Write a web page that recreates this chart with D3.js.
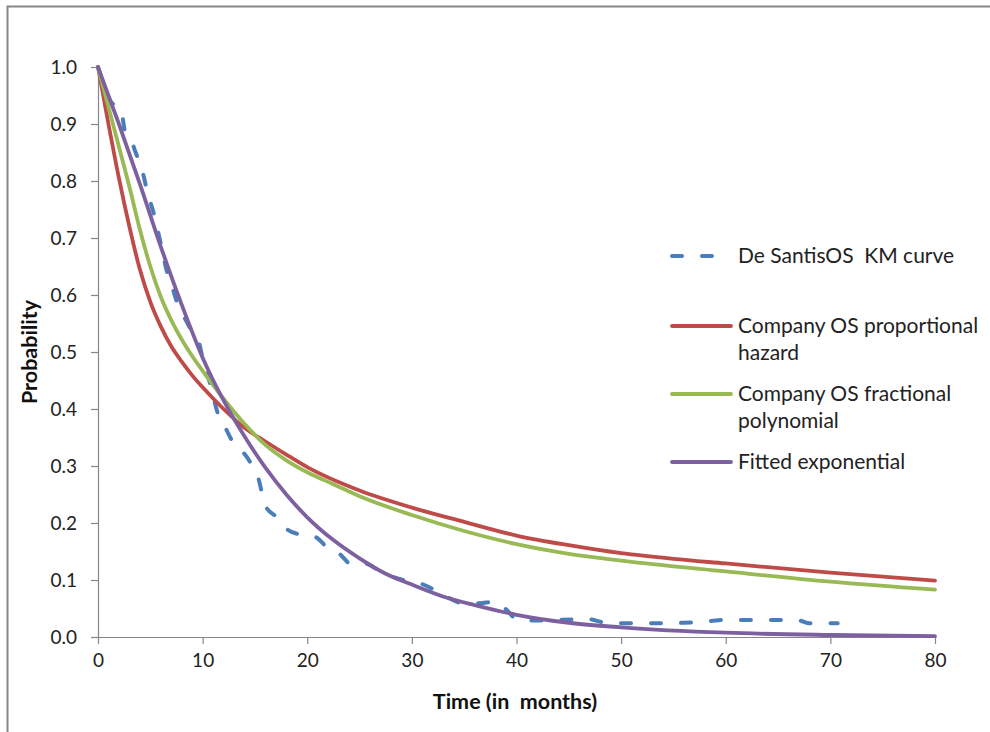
<!DOCTYPE html>
<html><head><meta charset="utf-8">
<script src="https://cdn.jsdelivr.net/npm/d3@7"></script>
<style>body{margin:0;background:#fff}svg{display:block}</style>
</head><body>
<svg id="c" width="990" height="732"></svg>
<script>
// ---- data ----
const xTicks = [0, 10, 20, 30, 40, 50, 60, 70, 80];
const yTicks = [0, 0.1, 0.2, 0.3, 0.4, 0.5, 0.6, 0.7, 0.8, 0.9, 1.0];
const seriesNames = ["De SantisOS  KM curve", "Company OS proportional hazard", "Company OS fractional polynomial", "Fitted exponential"];

const kmTime = [0, 1.2, 2.2, 2.6, 3.2, 3.6, 4.2, 4.8, 5.3, 6.0, 6.6, 7.0, 7.5, 8.0, 9.0, 9.6, 10.0, 10.7, 11.5, 12.1, 12.8, 13.7, 14.7, 15.3, 16.0, 17.1, 18.0, 19.5, 20.7, 22.0, 23.0, 24.3, 25.5, 27.0, 28.1, 29.2, 30.8, 32.7, 33.6, 34.9, 36.4, 37.8, 39.1, 40.0, 42, 44, 47, 48.5, 52, 56, 58, 59, 60, 65, 67, 68, 70.7];
const kmSurv = [1.0, 0.94, 0.925, 0.885, 0.87, 0.85, 0.82, 0.775, 0.745, 0.69, 0.64, 0.62, 0.59, 0.57, 0.536, 0.52, 0.49, 0.445, 0.39, 0.37, 0.345, 0.328, 0.302, 0.28, 0.23, 0.21, 0.19, 0.179, 0.176, 0.156, 0.147, 0.127, 0.129, 0.115, 0.106, 0.1, 0.094, 0.077, 0.068, 0.059, 0.059, 0.062, 0.047, 0.031, 0.029, 0.03, 0.031, 0.025, 0.024, 0.025, 0.027, 0.029, 0.03, 0.03, 0.029, 0.024, 0.024];

const phTime = [0, 1, 2, 3, 4, 5, 6, 7, 8, 9, 10, 12, 14, 16, 18, 20, 25, 30, 35, 40, 45, 50, 55, 60, 70, 80];
const phSurv = [1.0, 0.9, 0.805, 0.72, 0.645, 0.588, 0.545, 0.51, 0.483, 0.459, 0.438, 0.40, 0.367, 0.343, 0.32, 0.298, 0.257, 0.227, 0.202, 0.178, 0.161, 0.147, 0.137, 0.129, 0.113, 0.099];

const fpTime = [0, 1, 2, 3, 4, 5, 6, 7, 8, 9, 10, 12, 14, 16, 18, 20, 22.5, 25, 30, 35, 40, 45, 50, 60, 70, 80];
const fpSurv = [1.0, 0.93, 0.86, 0.79, 0.715, 0.65, 0.597, 0.556, 0.522, 0.493, 0.467, 0.418, 0.374, 0.337, 0.31, 0.289, 0.268, 0.247, 0.214, 0.186, 0.163, 0.146, 0.134, 0.115, 0.097, 0.083];

const exTime = [0, 2, 4, 6, 8, 10, 12, 14, 16, 18, 20, 22.5, 25, 27.5, 30, 33.5, 36, 40, 45, 50, 60, 70, 80];
const exSurv = [1.0, 0.9, 0.795, 0.685, 0.583, 0.49, 0.415, 0.352, 0.297, 0.25, 0.21, 0.17, 0.138, 0.111, 0.092, 0.068, 0.056, 0.039, 0.025, 0.017, 0.0075, 0.0035, 0.0015];

// ---- chart ----
const svg = d3.select("#c");
const colors = ["#4a7ebb", "#be4b48", "#98b954", "#7d60a0"];
const axisColor = "#868686";
const font = "Lato, 'Liberation Sans', Arial, sans-serif";

// outer frame
svg.append("path").attr("d", "M7.5,1000 V6.5 H1000")
  .attr("fill", "none").attr("stroke", axisColor).attr("stroke-width", 2);

const x = d3.scaleLinear().domain([0, 80]).range([98, 935]);
const y = d3.scaleLinear().domain([0, 1]).range([637, 67]);

// y axis
const yAx = svg.append("g").attr("transform", `translate(${x(0)},0)`)
  .call(d3.axisLeft(y).tickValues(yTicks).tickSize(7).tickSizeOuter(0).tickPadding(14).tickFormat(d3.format(".1f")));
// x axis
const xAx = svg.append("g").attr("transform", `translate(0,${y(0)})`)
  .call(d3.axisBottom(x).tickValues(xTicks).tickSize(7).tickSizeOuter(0).tickPadding(10).tickFormat(d3.format("d")));
[yAx, xAx].forEach(g => {
  g.select(".domain").attr("stroke", axisColor).attr("stroke-width", 1.2);
  g.selectAll(".tick line").attr("stroke", axisColor).attr("stroke-width", 1.2);
  g.selectAll(".tick text").attr("fill", "#222").style("font-family", font).style("font-size", "19px");
});

// axis titles
svg.append("text").attr("x", 515).attr("y", 709).attr("text-anchor", "middle")
  .style("font-family", font).style("font-size", "21.5px").style("font-weight", "bold").attr("fill", "#111")
  .attr("xml:space", "preserve").text("Time (in  months)");
svg.append("text").attr("transform", "translate(37,352) rotate(-90)").attr("text-anchor", "middle")
  .style("font-family", font).style("font-size", "21.5px").style("font-weight", "bold").attr("fill", "#111")
  .text("Probability");

// series
const series = [
  {t: kmTime, s: kmSurv, dash: true},
  {t: phTime, s: phSurv},
  {t: fpTime, s: fpSurv},
  {t: exTime, s: exSurv}
];
const line = d3.line().x(d => x(d[0])).y(d => y(d[1])).curve(d3.curveMonotoneX);
series.forEach((ser, i) => {
  const pts = ser.t.map((t, k) => [t, ser.s[k]]);
  const p = svg.append("path").datum(pts).attr("d", line)
    .attr("fill", "none").attr("stroke", colors[i]).attr("stroke-width", ser.dash ? 4 : 3.8)
    .attr("stroke-linejoin", "round").attr("stroke-linecap", "round");
  if (ser.dash) p.attr("stroke-dasharray", "10,20");
});

// legend
const legendItems = [
  {lines: [seriesNames[0]], y: 256},
  {lines: ["Company OS proportional", "hazard"], y: 326},
  {lines: ["Company OS fractional", "polynomial"], y: 394},
  {lines: ["Fitted exponential"], y: 462}
];
legendItems.forEach((it, i) => {
  const g = svg.append("g");
  const l = g.append("line").attr("x1", 672).attr("x2", 731).attr("y1", it.y).attr("y2", it.y)
    .attr("stroke", colors[i]).attr("stroke-width", i === 0 ? 4 : 3.8).attr("stroke-linecap", "round");
  if (i === 0) l.attr("stroke-dasharray", "10,20");
  it.lines.forEach((tx, k) => {
    g.append("text").attr("x", 738).attr("y", it.y + 7 + k * 27)
      .style("font-family", font).style("font-size", "21px").attr("fill", "#222")
      .attr("xml:space", "preserve").text(tx);
  });
});
</script>
</body></html>
